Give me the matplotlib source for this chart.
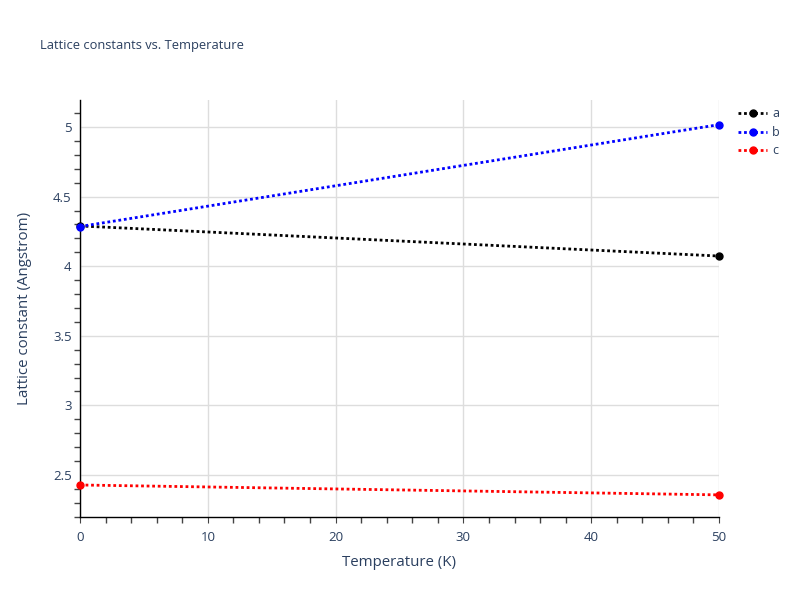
import matplotlib
matplotlib.use("Agg")
import matplotlib.pyplot as plt
from matplotlib.ticker import MultipleLocator, FuncFormatter
from matplotlib.lines import Line2D

temps = [0, 50]
a_vals = [4.289, 4.073]
b_vals = [4.285, 5.017]
c_vals = [2.428, 2.357]
series = [("a", a_vals, "black"), ("b", b_vals, "blue"), ("c", c_vals, "red")]

plt.rcParams['font.family'] = ['Open Sans', 'DejaVu Sans']

W, H = 800, 600
fig = plt.figure(figsize=(8, 6), dpi=100)
left, right, top, bottom = 80, 719, 100, 517
ax = fig.add_axes([left / W, 1 - bottom / H, (right - left) / W, (bottom - top) / H])

txt = "#2a3f5f"
for name, vals, col in series:
    ax.plot(temps, vals, linestyle=(0, (1, 1)), color=col, lw=2, marker="o",
            markersize=5, clip_on=False, zorder=3)

ax.set_xlim(0, 50)
ax.set_ylim(2.198, 5.194)
ax.xaxis.set_major_locator(MultipleLocator(10))
ax.xaxis.set_minor_locator(MultipleLocator(2))
ax.yaxis.set_major_locator(MultipleLocator(0.5))
ax.yaxis.set_minor_locator(MultipleLocator(0.1))
ax.grid(True, which="major", color="#dddddd", lw=1)
ax.set_axisbelow(True)
for s in ["top", "right"]:
    ax.spines[s].set_visible(False)
for s in ["left", "bottom"]:
    ax.spines[s].set_color("black")
    ax.spines[s].set_linewidth(1)
ax.tick_params(axis="both", which="major", length=0, labelsize=9.5, labelcolor=txt, pad=6)
ax.tick_params(axis="both", which="minor", length=4, color="#444444", width=1, direction="out")
ax.tick_params(axis="x", which="major", length=4, color="#444444")

def fmt(v, pos):
    return "%g" % round(v, 3)
ax.yaxis.set_major_formatter(FuncFormatter(fmt))

ax.set_xlabel("Temperature (K)", fontsize=10.8, color=txt, labelpad=8)
ax.set_ylabel("Lattice constant (Angstrom)", fontsize=10.8, color=txt, labelpad=15)
fig.text(40 / W, 1 - 45 / H, "Lattice constants vs. Temperature", fontsize=9.3,
         color=txt, va="center", ha="left")

handles = [Line2D([0], [0], linestyle=(0, (1, 1)), color=col, lw=2, marker="o", markersize=5)
           for _, _, col in series]
leg = fig.legend(handles, [n for n, _, _ in series], loc="upper left",
                 bbox_to_anchor=(727 / W, 1 - 96 / H), frameon=False, fontsize=9,
                 handlelength=2.3, labelspacing=0.45, handletextpad=0.4)
for t in leg.get_texts():
    t.set_color(txt)

fig.savefig("out.png", dpi=100)
